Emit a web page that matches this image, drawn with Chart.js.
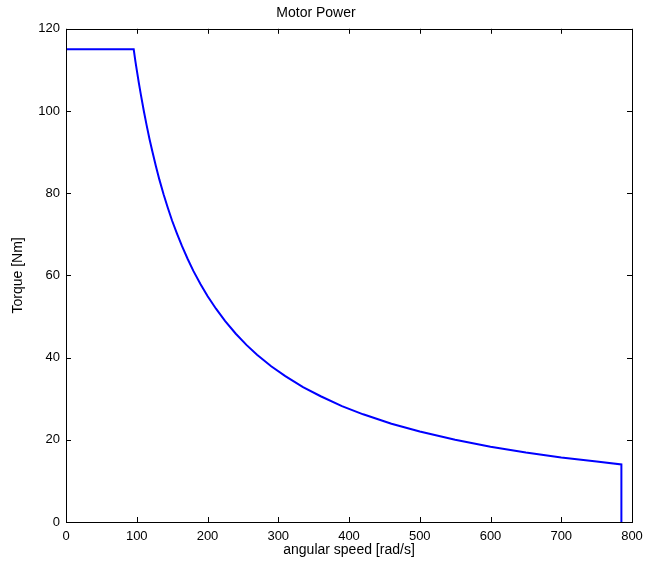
<!DOCTYPE html>
<html>
<head>
<meta charset="utf-8">
<script src="https://cdn.jsdelivr.net/npm/chart.js@4/dist/chart.umd.min.js"></script>
<style>
  html, body { margin: 0; padding: 0; background: #fff; }
  #wrap { width: 645px; height: 570px; }
</style>
</head>
<body>
<div id="wrap"><canvas id="motor-chart" width="645" height="570"></canvas></div>
<script>
  // angular speed [rad/s] and torque [Nm]
  var speedValues = [0, 95.7, 98, 100, 103, 106, 110, 114, 118, 122, 127, 132, 138, 144, 150,
    157, 164, 172, 180, 190, 200, 212, 225, 240, 255, 270, 290, 310, 335, 360, 390, 420,
    460, 500, 550, 600, 650, 700, 750, 785, 785];
  var torqueValues = [115, 115, 112.2, 110, 106.8, 103.8, 100, 96.5, 93.2, 90.2, 86.6, 83.3, 79.7, 76.4, 73.3,
    70.1, 67.1, 64, 61.1, 57.9, 55, 51.9, 48.9, 45.8, 43.1, 40.7, 37.9, 35.5, 32.8, 30.6, 28.2, 26.2,
    23.9, 22, 20, 18.3, 16.9, 15.7, 14.7, 14, 0];
  var xTicks = [0, 100, 200, 300, 400, 500, 600, 700, 800];
  var yTicks = [0, 20, 40, 60, 80, 100, 120];

  (function () {
    "use strict";

    var FONT = "'Liberation Sans', Arial, Helvetica, sans-serif";

    function fixedTicks(list) {
      return function (scale) {
        scale.ticks = list.map(function (v) { return { value: v }; });
      };
    }

    // matlab style box with ticks pointing inwards on all four sides
    var innerTicks = {
      id: "innerTicks",
      afterDraw: function (chart) {
        var ctx = chart.ctx;
        var a = chart.chartArea;
        var xs = chart.scales.x;
        var ys = chart.scales.y;
        var len = 5;
        ctx.save();
        ctx.strokeStyle = "#000";
        ctx.lineWidth = 1;
        ctx.beginPath();
        xs.ticks.forEach(function (t) {
          var px = Math.round(xs.getPixelForValue(t.value)) + 0.5;
          ctx.moveTo(px, a.bottom);
          ctx.lineTo(px, a.bottom - len);
          ctx.moveTo(px, a.top);
          ctx.lineTo(px, a.top + len);
        });
        ys.ticks.forEach(function (t) {
          var py = Math.round(ys.getPixelForValue(t.value)) + 0.5;
          ctx.moveTo(a.left, py);
          ctx.lineTo(a.left + len, py);
          ctx.moveTo(a.right, py);
          ctx.lineTo(a.right - len, py);
        });
        ctx.stroke();
        ctx.strokeRect(Math.round(a.left) + 0.5, Math.round(a.top) + 0.5,
          Math.round(a.right - a.left), Math.round(a.bottom - a.top));
        ctx.restore();
      }
    };

    var points = speedValues.map(function (s, i) {
      return { x: s, y: torqueValues[i] };
    });

    new Chart(document.getElementById("motor-chart"), {
      type: "scatter",
      data: {
        datasets: [
          {
            data: points,
            showLine: true,
            borderColor: "#0000ff",
            borderWidth: 2,
            pointRadius: 0,
            tension: 0,
            fill: false
          }
        ]
      },
      options: {
        responsive: false,
        animation: false,
        layout: { padding: { top: 0, right: 13, bottom: 0, left: 0 } },
        plugins: {
          legend: { display: false },
          tooltip: { enabled: false },
          title: {
            display: true,
            text: "Motor Power",
            color: "#000",
            font: { family: FONT, size: 14, weight: "normal" },
            padding: { top: 5, bottom: 7 }
          }
        },
        scales: {
          x: {
            type: "linear",
            min: 0,
            max: 800,
            afterBuildTicks: fixedTicks(xTicks),
            afterFit: function (scale) {
              scale.height = 48;
              scale.paddingLeft = 0;
              scale.paddingRight = 0;
            },
            grid: { display: false, drawTicks: false },
            border: { display: false },
            ticks: {
              color: "#000",
              padding: 7,
              maxRotation: 0,
              font: { family: FONT, size: 13 }
            },
            title: {
              display: true,
              text: "angular speed [rad/s]",
              color: "#000",
              font: { family: FONT, size: 14 },
              padding: { top: 0, bottom: 11 }
            }
          },
          y: {
            type: "linear",
            min: 0,
            max: 120,
            afterBuildTicks: fixedTicks(yTicks),
            afterFit: function (scale) {
              scale.width = 66;
              scale.paddingTop = 0;
              scale.paddingBottom = 0;
            },
            grid: { display: false, drawTicks: false },
            border: { display: false },
            ticks: {
              color: "#000",
              padding: 6,
              font: { family: FONT, size: 13 }
            },
            title: {
              display: true,
              text: "Torque [Nm]",
              color: "#000",
              font: { family: FONT, size: 14 },
              padding: { top: 10, bottom: 0 }
            }
          }
        }
      },
      plugins: [innerTicks]
    });
  })();
</script>
</body>
</html>
